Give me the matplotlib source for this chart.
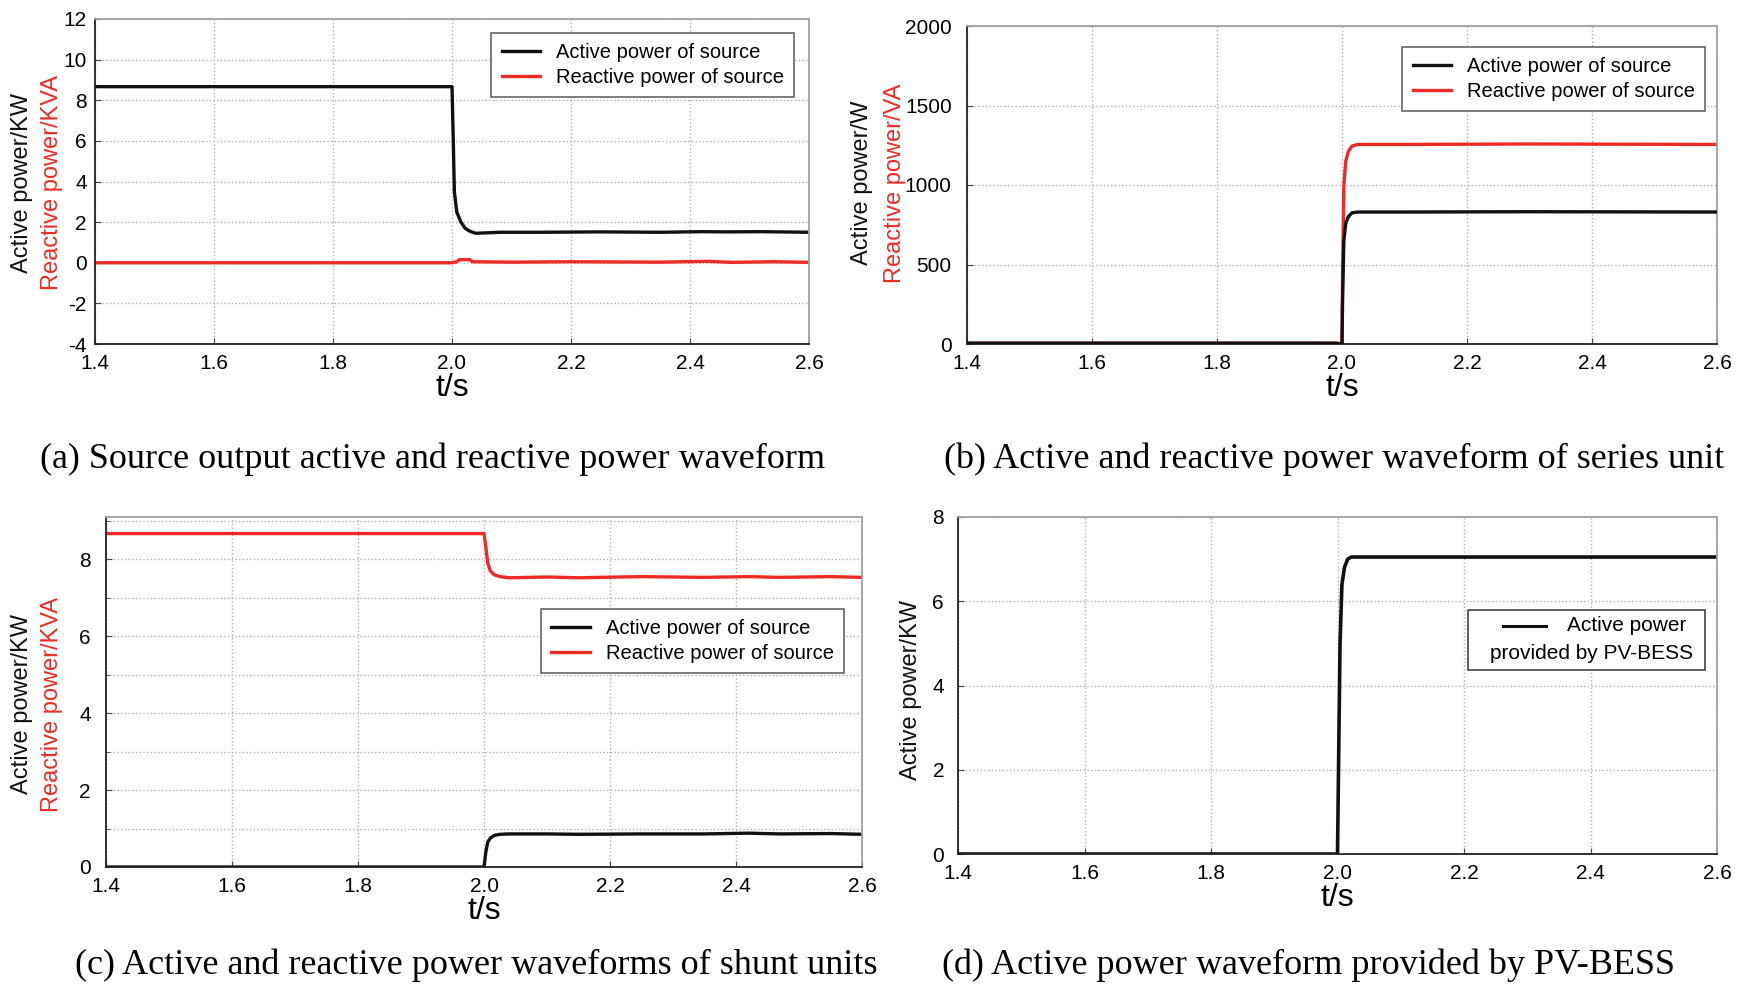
import matplotlib
matplotlib.use("Agg")
import matplotlib.pyplot as plt
from matplotlib.ticker import MultipleLocator, FormatStrFormatter
from matplotlib.patches import Rectangle
from matplotlib.lines import Line2D

plt.rcParams["axes.unicode_minus"] = False

# === Data ===
# (a) source output power, kW / kVA
T_A = [1.40, 1.70, 2.000, 2.002, 2.004, 2.008, 2.015, 2.022, 2.030, 2.040, 2.080,
       2.150, 2.250, 2.350, 2.420, 2.460, 2.520, 2.600]
P_A = [8.67, 8.67, 8.67, 6.2, 3.5, 2.5, 2.0, 1.7, 1.55, 1.45, 1.50,
       1.50, 1.52, 1.50, 1.53, 1.52, 1.53, 1.50]
T_QA = [1.40, 2.000, 2.008, 2.012, 2.030, 2.034, 2.100, 2.200, 2.350, 2.430, 2.470, 2.540, 2.600]
Q_A = [0.0, 0.0, 0.05, 0.15, 0.15, 0.05, 0.03, 0.05, 0.03, 0.07, 0.02, 0.05, 0.02]

# (b) series unit, W / VA
T_B = [1.40, 1.99, 2.000, 2.001, 2.003, 2.006, 2.010, 2.016, 2.025, 2.10, 2.30, 2.60]
P_B = [5, 5, 0, 300, 650, 760, 800, 825, 830, 830, 832, 830]
Q_B = [5, 5, 0, 450, 1000, 1150, 1210, 1245, 1255, 1255, 1258, 1255]

# (c) shunt units, kW / kVA
T_C = [1.40, 2.000, 2.003, 2.006, 2.010, 2.016, 2.025, 2.040, 2.10, 2.15,
       2.25, 2.35, 2.42, 2.47, 2.55, 2.60]
Q_C = [8.67, 8.67, 8.3, 7.9, 7.7, 7.6, 7.55, 7.52, 7.54, 7.52,
       7.55, 7.53, 7.55, 7.53, 7.55, 7.53]
P_C = [0.0, 0.0, 0.4, 0.65, 0.75, 0.82, 0.85, 0.86, 0.86, 0.85,
       0.86, 0.86, 0.88, 0.86, 0.87, 0.85]

# (d) PV-BESS, kW
T_D = [1.40, 2.000, 2.002, 2.004, 2.007, 2.011, 2.016, 2.022, 2.10, 2.60]
P_D = [0.0, 0.0, 2.5, 5.0, 6.4, 6.8, 7.0, 7.05, 7.05, 7.05]

LEG_LABELS = ["Active power of source", "Reactive power of source"]
CAPTIONS = ["(a) Source output active and reactive power waveform",
            "(b) Active and reactive power waveform of series unit",
            "(c) Active and reactive power waveforms of shunt units",
            "(d) Active power waveform provided by PV-BESS"]

BLACK = "#111111"
RED = "#ee2a24"
SANS = ["Liberation Sans", "DejaVu Sans"]
SERIF = ["Liberation Serif", "DejaVu Serif"]

W, H = 1750, 985
fig = plt.figure(figsize=(W / 100, H / 100), dpi=100)


def px_axes(left, top, right, bottom):
    return fig.add_axes([left / W, 1 - bottom / H, (right - left) / W, (bottom - top) / H])


def style(ax, ylim, ymajor, yminor=None, ypad=9):
    ax.set_xlim(1.4, 2.6)
    ax.set_ylim(*ylim)
    ax.xaxis.set_major_locator(MultipleLocator(0.2))
    ax.xaxis.set_major_formatter(FormatStrFormatter("%.1f"))
    ax.yaxis.set_major_locator(MultipleLocator(ymajor))
    if yminor:
        ax.yaxis.set_minor_locator(MultipleLocator(yminor))
        ax.grid(True, which="minor", axis="y", ls=":", color="#b0b0b0", lw=1)
    ax.grid(True, which="major", ls=":", color="#b0b0b0", lw=1)
    ax.tick_params(direction="in", length=4, labelsize=15, color="#444444")
    ax.tick_params(axis="x", pad=7)
    ax.tick_params(axis="y", pad=ypad)
    ax.tick_params(which="minor", direction="in", length=3, color="#444444")
    for lab in ax.get_xticklabels() + ax.get_yticklabels():
        lab.set_family(SANS)
    for s in ["left", "bottom"]:
        ax.spines[s].set_color("#222222")
        ax.spines[s].set_linewidth(1.3)
    for s in ["top", "right"]:
        ax.spines[s].set_color("#a0a0a0")
        ax.spines[s].set_linewidth(1.3)
    ax.set_xlabel("t/s", family=SANS, fontsize=23, labelpad=0)


def legend(ax, anchor):
    leg = ax.legend(LEG_LABELS, loc="upper right", bbox_to_anchor=anchor, fancybox=False,
                    framealpha=1, edgecolor="#666666", handlelength=1.9, handletextpad=0.8,
                    borderpad=0.5, borderaxespad=0, labelspacing=0.3,
                    prop={"family": SANS, "size": 14.5})
    leg.get_frame().set_linewidth(1.2)


def ylabels(x1, x2, y, red_text, black_text):
    fig.text(x1 / W, 1 - y / H, black_text, rotation=90, ha="center", va="center",
             family=SANS, fontsize=17, color=BLACK)
    if red_text:
        fig.text(x2 / W, 1 - y / H, red_text, rotation=90, ha="center", va="center",
                 family=SANS, fontsize=17, color=RED)


# (a)
ax = px_axes(95, 19, 809, 344)
ax.plot(T_A, P_A, color=BLACK, lw=2.4)
ax.plot(T_QA, Q_A, color=RED, lw=2.4)
style(ax, (-4, 12), 2, ypad=6)
legend(ax, (0.979, 0.957))
ylabels(22, 52, 183, "Reactive power/KVA", "Active power/KW")

# (b)
ax = px_axes(967, 26, 1717, 344)
ax.plot(T_B, P_B, color=BLACK, lw=2.4, zorder=3)
ax.plot(T_B, Q_B, color=RED, lw=2.4, zorder=2)
style(ax, (0, 2000), 500, ypad=11)
legend(ax, (0.984, 0.934))
ylabels(862, 895, 183, "Reactive power/VA", "Active power/W")

# (c)
ax = px_axes(106, 517, 862, 867)
ax.plot(T_C, P_C, color=BLACK, lw=2.4)
ax.plot(T_C, Q_C, color=RED, lw=2.4)
style(ax, (0, 9.1), 2, 1, ypad=11)
legend(ax, (0.976, 0.737))
ylabels(22, 52, 704, "Reactive power/KVA", "Active power/KW")

# (d)
ax = px_axes(958, 517, 1717, 854)
ax.plot(T_D, P_D, color=BLACK, lw=2.6)
style(ax, (0, 8), 2, ypad=10)
ax.add_patch(Rectangle((0.672, 0.546), 0.312, 0.178, transform=ax.transAxes, fill=True,
                       facecolor="white", edgecolor="#444444", lw=1.2, zorder=5))
ax.add_line(Line2D([0.718, 0.775], [0.677, 0.677], transform=ax.transAxes, color=BLACK,
                   lw=2.2, zorder=6))
ax.text(0.960, 0.677, "Active power", transform=ax.transAxes, ha="right", va="center",
        family=SANS, fontsize=15, zorder=6)
ax.text(0.968, 0.596, "provided by PV-BESS", transform=ax.transAxes, ha="right", va="center",
        family=SANS, fontsize=15, zorder=6)
ylabels(911, None, 690, None, "Active power/KW")

# captions
for (cx, cy), txt in zip([(433, 459), (1334, 459), (476, 965), (1309, 965)], CAPTIONS):
    fig.text(cx / W, 1 - cy / H, txt, ha="center", va="center", family=SERIF, fontsize=26)

fig.savefig("out.png", dpi=100, facecolor="white")
